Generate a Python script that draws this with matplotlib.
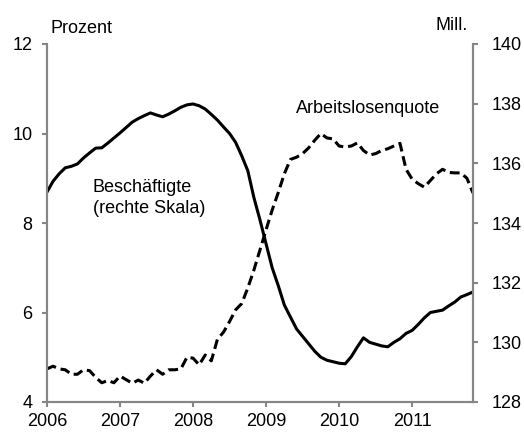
import numpy as np
import matplotlib
matplotlib.use("Agg")
import matplotlib.pyplot as plt

plt.rcParams['font.family'] = ['Liberation Sans', 'DejaVu Sans']
plt.rcParams['font.size'] = 13

# monthly data, Jan 2006 - Nov 2011
years = ['2006', '2007', '2008', '2009', '2010', '2011']

# Arbeitslosenquote in Prozent (left axis)
quote = [4.74, 4.80, 4.74, 4.72, 4.62, 4.62, 4.72, 4.70, 4.55, 4.43, 4.48, 4.43,
         4.58, 4.50, 4.42, 4.49, 4.42, 4.58, 4.72, 4.62, 4.72, 4.72, 4.74, 5.00,
         4.98, 4.83, 5.05, 4.92, 5.40, 5.56, 5.80, 6.06, 6.20, 6.55, 6.95, 7.40,
         7.85, 8.29, 8.68, 9.10, 9.42, 9.47, 9.55, 9.68, 9.85, 10.00, 9.90, 9.88,
         9.72, 9.70, 9.72, 9.79, 9.62, 9.52, 9.55, 9.62, 9.66, 9.72, 9.78, 9.20,
         8.98, 8.88, 8.80, 8.95, 9.10, 9.20, 9.13, 9.12, 9.12, 9.00, 8.67]

# Beschaeftigte in Mill. (right axis)
beschaeftigte = [135.04, 135.40, 135.65, 135.85, 135.90, 135.98, 136.18, 136.35, 136.51, 136.52, 136.68, 136.85,
                 137.02, 137.20, 137.38, 137.50, 137.60, 137.69, 137.62, 137.56, 137.65, 137.76, 137.88, 137.96,
                 137.99, 137.93, 137.82, 137.64, 137.45, 137.22, 137.00, 136.70, 136.25, 135.75, 134.85, 134.10,
                 133.30, 132.50, 131.90, 131.25, 130.85, 130.45, 130.20, 129.95, 129.70, 129.50, 129.40, 129.35,
                 129.30, 129.28, 129.52, 129.85, 130.15, 130.00, 129.94, 129.88, 129.85, 130.00, 130.12, 130.30,
                 130.40, 130.60, 130.82, 131.00, 131.04, 131.08, 131.22, 131.35, 131.52, 131.60, 131.69]

months = np.arange(len(quote))
grey = '#868686'

fig = plt.figure(figsize=(5.24, 4.32), dpi=100)
ax = fig.add_axes([47/524, 1 - 402/432, (473-47)/524, (402-44)/432])
ax2 = ax.twinx()

ax.plot(months, quote, color='black', lw=2.2, dashes=(3.2, 1.6))
ax2.plot(months, beschaeftigte, color='black', lw=2.2)

ax.set_xlim(0, 70)
ax.set_ylim(4, 12)
ax2.set_ylim(128, 140)
ax.set_yticks([4, 6, 8, 10, 12])
ax2.set_yticks([128, 130, 132, 134, 136, 138, 140])
ax.set_xticks(np.arange(0, 72, 12))
ax.set_xticklabels(years)

for a in (ax, ax2):
    a.spines['top'].set_visible(False)
    for s in a.spines.values():
        s.set_color(grey)
        s.set_linewidth(1.5)
    a.tick_params(color=grey, width=1.5, length=3.6, labelsize=13)
ax.tick_params(axis='y', pad=7)
ax.tick_params(axis='x', pad=4.5)
ax2.tick_params(axis='y', pad=10)

fig.text(50/524, 1 - 33/432, 'Prozent', ha='left', va='baseline')
fig.text(468/524, 1 - 30/432, 'Mill.', ha='right', va='baseline')
fig.text(368/524, 1 - 113/432, 'Arbeitslosenquote', ha='center', va='baseline')
fig.text(93/524, 1 - 192/432, 'Beschäftigte', ha='left', va='baseline')
fig.text(93/524, 1 - 213/432, '(rechte Skala)', ha='left', va='baseline')

fig.savefig('out.png', dpi=100)
